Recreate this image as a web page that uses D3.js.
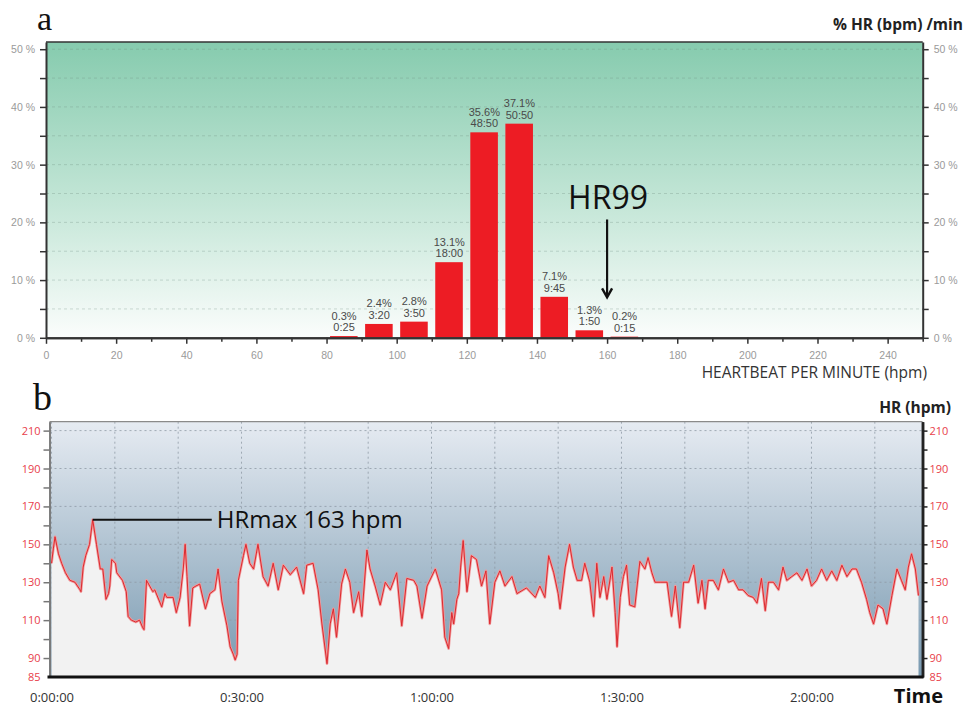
<!DOCTYPE html>
<html><head><meta charset="utf-8">
<script src="https://cdn.jsdelivr.net/npm/d3@7"></script>
<style>body{margin:0;background:#fff;} svg{display:block;}</style>
</head><body>
<svg id="chart" width="968" height="709"></svg>
<script>
// ---------- DATA ----------
const binStarts = [80, 90, 100, 110, 120, 130, 140, 150, 160];
const binPercents = [0.3, 2.4, 2.8, 13.1, 35.6, 37.1, 7.1, 1.3, 0.2];
const binDurations = ["0:25", "3:20", "3:50", "18:00", "48:50", "50:50", "9:45", "1:50", "0:15"];
const binWidth = 10;
const pctTicks = [0, 10, 20, 30, 40, 50];
const pctMinorTicks = [5, 15, 25, 35, 45];
const hpmTicks = [0, 20, 40, 60, 80, 100, 120, 140, 160, 180, 200, 220, 240];
const hpmMinorTicks = [10, 30, 50, 70, 90, 110, 130, 150, 170, 190, 210, 230, 250];

const hrMinutes = [0,0.3,0.55,1.1,1.6,2.2,2.9,3.7,4.5,4.65,5.0,5.4,6.0,6.5,7.1,7.7,8.1,8.6,9.0,9.2,9.5,10.1,10.3,11.2,11.8,12.1,12.6,13.3,13.9,14.4,14.6,15.0,15.5,16.0,16.3,17.4,17.9,18.2,19.2,19.7,20.3,20.8,21.1,21.4,21.8,22.3,22.8,23.4,24.3,25.0,25.8,26.3,26.9,27.7,28.2,28.7,29.0,29.3,29.5,30.3,30.7,31.3,31.9,32.6,33.4,34.2,35.0,35.8,36.6,37.7,38.7,39.8,40.3,41.3,42.1,42.7,43.5,44.0,44.5,45.0,45.8,46.4,47.1,47.7,48.5,49.0,49.8,50.3,51.1,51.9,52.7,53.5,54.5,55.3,56.1,57.2,57.7,58.5,59.3,60.6,61.6,62.1,62.7,63.2,63.5,64.0,64.3,64.6,65.0,65.6,66.3,67.1,67.9,68.6,69.2,70.0,70.8,71.6,72.7,73.5,75.0,76.4,77.1,77.9,78.5,79.3,80.0,80.3,81.1,81.8,82.4,83.0,83.7,84.2,85.0,85.6,86.1,86.6,87.2,87.7,88.5,89.0,89.3,89.8,90.3,90.8,91.3,92.1,92.9,93.7,94.2,94.8,95.3,96.1,97.2,97.9,98.5,99.2,99.8,100.6,101.4,102.1,102.7,103.2,103.7,104.5,105.3,106.1,106.9,107.7,108.5,109.2,110.0,110.8,111.4,112.1,112.7,113.2,114.0,114.8,115.5,116.1,116.9,117.7,118.5,119.3,120.0,120.8,121.6,122.4,123.2,124.0,124.8,125.6,126.4,127.1,127.9,128.7,129.2,129.8,130.5,131.3,131.9,132.7,133.5,134.2,134.8,135.3,135.8,136.4,136.9];
const hrValues = [140,148,154,145,140,135,131,130,126,125,138,144,150,163,150,137,137,121,124,128,142,140,135,131,125,112,110,109,110,106,105,131,128,125,126,117,124,122,122,114,122,137,150,133,107,127,128,129,116,124,126,137,120,107,96,92,89,92,131,144,150,140,137,150,133,128,140,126,139,134,138,124,139,140,126,108,87,108,116,101,129,137,130,114,125,112,147,137,128,118,130,126,135,107,132,131,128,111,128,137,126,101,95,114,108,121,124,138,152,125,144,142,128,136,108,130,136,128,133,124,127,122,128,122,144,135,124,116,138,150,138,131,131,140,130,112,140,122,133,121,138,114,96,122,133,139,118,117,141,137,143,135,130,130,130,112,128,106,130,130,139,119,131,116,131,131,126,137,130,131,126,126,123,122,119,132,115,130,130,126,138,131,133,135,131,137,128,131,137,131,136,131,139,133,137,137,130,121,114,108,118,116,108,123,137,131,126,138,145,137,123];
const timeTicks = [0, 30, 60, 90, 120];
const timeTickLabels = ["0:00:00", "0:30:00", "1:00:00", "1:30:00", "2:00:00"];
const timeGridMinutes = [0, 10, 20, 30, 40, 50, 60, 70, 80, 90, 100, 110, 120, 130];
const hrTicks = [90, 110, 130, 150, 170, 190, 210];
const hrMinorTicks = [100, 120, 140, 160, 180, 200];
const hrBottomLabel = "85";
const hrMax = {minute: 6.5, value: 163, lineEndMinute: 25.3, label: "HRmax 163 hpm"};
const hr99 = {hpm: 160, arrowTop: 20.5, arrowTip: 7.0, labelAt: 22.3, label: "HR99"};

// ---------- CHART ----------
const svg = d3.select("#chart");
const defs = svg.append("defs");
const sans = "'Liberation Sans', Arial, sans-serif";
const open = "'Open Sans', 'Noto Sans', sans-serif";

// Panel A scales
const xA = d3.scaleLinear().domain([0, 250]).range([46, 922.7]);
const yA = d3.scaleLinear().domain([0, 51.25]).range([337.8, 42]);

const gA = defs.append("linearGradient").attr("id", "gA").attr("x1", 0).attr("y1", 0).attr("x2", 0).attr("y2", 1);
gA.append("stop").attr("offset", "0%").attr("stop-color", "#86cbae");
gA.append("stop").attr("offset", "55%").attr("stop-color", "#c4e6d7");
gA.append("stop").attr("offset", "100%").attr("stop-color", "#fbfdfc");

svg.append("rect").attr("x", xA(0)).attr("y", yA(51.25)).attr("width", xA(250) - xA(0)).attr("height", yA(0) - yA(51.25)).attr("fill", "url(#gA)");

// gridlines A
svg.append("g").selectAll("line").data(pctTicks.concat(pctMinorTicks).filter(d => d > 0)).join("line")
  .attr("x1", xA(0)).attr("x2", xA(250)).attr("y1", d => yA(d)).attr("y2", d => yA(d))
  .attr("stroke", "rgba(110,140,125,0.3)").attr("stroke-dasharray", "3,3").attr("stroke-width", 1);

// bars
const bars = svg.append("g");
bars.selectAll("rect").data(binStarts).join("rect")
  .attr("x", d => xA(d) + 3.5)
  .attr("width", d => xA(d + binWidth) - xA(d) - 7.5)
  .attr("y", (d, i) => yA(binPercents[i]))
  .attr("height", (d, i) => yA(0) - yA(binPercents[i]))
  .attr("fill", "#ed1c24");
const lbl = svg.append("g").attr("font-family", sans).attr("font-size", 11).attr("fill", "#4a4a4a").attr("text-anchor", "middle");
lbl.selectAll("text.p").data(binStarts).join("text").attr("class", "p")
  .attr("x", d => xA(d + binWidth / 2)).attr("y", (d, i) => yA(binPercents[i]) - 16.5).text((d, i) => binPercents[i] + "%");
lbl.selectAll("text.d").data(binStarts).join("text").attr("class", "d")
  .attr("x", d => xA(d + binWidth / 2)).attr("y", (d, i) => yA(binPercents[i]) - 5).text((d, i) => binDurations[i]);

// axes A
function styleAxis(g, color, width, textColor, size, family) {
  g.select(".domain").attr("stroke", color).attr("stroke-width", width);
  g.selectAll(".tick line").attr("stroke", color).attr("stroke-width", 1.5);
  g.selectAll(".tick text").attr("fill", textColor).attr("font-size", size).attr("font-family", family);
}
const pctFmt = d => (d % 10 === 0 ? d + " %" : "");
const allPct = pctTicks.concat(pctMinorTicks).sort((a, b) => a - b);
svg.append("g").attr("transform", `translate(${xA(0)},0)`)
  .call(d3.axisLeft(yA).tickValues(allPct).tickFormat(pctFmt).tickSize(6).tickPadding(5).tickSizeOuter(0))
  .call(g => styleAxis(g, "#333", 2, "#9a9a9a", 10.5, sans));
svg.append("g").attr("transform", `translate(${xA(250)},0)`)
  .call(d3.axisRight(yA).tickValues(allPct).tickFormat(pctFmt).tickSize(6).tickPadding(5).tickSizeOuter(0))
  .call(g => styleAxis(g, "#333", 2, "#9a9a9a", 10.5, sans));
svg.append("g").attr("transform", `translate(0,${yA(0)})`)
  .call(d3.axisBottom(xA).tickValues(hpmMinorTicks).tickFormat("").tickSize(4).tickSizeOuter(0))
  .call(g => styleAxis(g, "#333", 2, "#9a9a9a", 10.5, sans));
svg.append("g").attr("transform", `translate(0,${yA(0)})`)
  .call(d3.axisBottom(xA).tickValues(hpmTicks).tickSize(6).tickPadding(8).tickSizeOuter(0))
  .call(g => styleAxis(g, "#333", 2, "#9a9a9a", 10.5, sans));
svg.append("line").attr("x1", xA(0)).attr("x2", xA(250)).attr("y1", yA(51.25)).attr("y2", yA(51.25)).attr("stroke", "#333").attr("stroke-width", 1.5);

// titles A
svg.append("text").attr("x", 37).attr("y", 30).attr("font-family", "'Liberation Serif', 'Times New Roman', serif").attr("font-size", 34).attr("fill", "#111").text("a");
svg.append("text").attr("x", 963).attr("y", 30).attr("text-anchor", "end").attr("font-family", open).attr("font-weight", "bold").attr("font-size", 15.5).attr("fill", "#222").text("% HR (bpm) /min");
svg.append("text").attr("x", 927).attr("y", 378).attr("text-anchor", "end").attr("font-family", open).attr("font-size", 15.5).attr("fill", "#333").text("HEARTBEAT PER MINUTE (hpm)");

// HR99 annotation
svg.append("text").attr("x", xA(hr99.hpm) + 1).attr("y", yA(hr99.labelAt)).attr("text-anchor", "middle").attr("font-family", open).attr("font-size", 32).attr("fill", "#111").text(hr99.label);
svg.append("line").attr("x1", xA(hr99.hpm)).attr("x2", xA(hr99.hpm)).attr("y1", yA(hr99.arrowTop)).attr("y2", yA(hr99.arrowTip) - 2).attr("stroke", "#111").attr("stroke-width", 2.2);
svg.append("path").attr("d", d3.line()([[xA(hr99.hpm) - 5, yA(hr99.arrowTip) - 9], [xA(hr99.hpm), yA(hr99.arrowTip)], [xA(hr99.hpm) + 5, yA(hr99.arrowTip) - 9]]))
  .attr("fill", "none").attr("stroke", "#111").attr("stroke-width", 2.4).attr("stroke-linejoin", "miter");

// ---------- Panel B ----------
const xB = d3.scaleLinear().domain([-0.32, 137.53]).range([49.5, 922.5]);
const yB = d3.scaleLinear().domain([80, 214.7]).range([677, 421.7]);

const gB = defs.append("linearGradient").attr("id", "gB").attr("x1", 0).attr("y1", 0).attr("x2", 0).attr("y2", 1);
gB.append("stop").attr("offset", "0%").attr("stop-color", "#e6ebf2");
gB.append("stop").attr("offset", "100%").attr("stop-color", "#7899b0");
svg.append("rect").attr("x", xB.range()[0]).attr("y", yB.range()[1]).attr("width", xB.range()[1] - xB.range()[0]).attr("height", yB.range()[0] - yB.range()[1]).attr("fill", "url(#gB)");

// gridlines B
svg.append("g").selectAll("line").data(hrTicks).join("line")
  .attr("x1", xB.range()[0]).attr("x2", xB.range()[1]).attr("y1", d => yB(d)).attr("y2", d => yB(d))
  .attr("stroke", "#8f9aa5").attr("stroke-opacity", 0.8).attr("stroke-dasharray", "2,3");
svg.append("g").selectAll("line").data(timeGridMinutes).join("line")
  .attr("x1", d => xB(d)).attr("x2", d => xB(d)).attr("y1", yB.range()[1]).attr("y2", yB.range()[0])
  .attr("stroke", "#8f9aa5").attr("stroke-opacity", 0.8).attr("stroke-dasharray", "2,3");

const hrData = hrMinutes.map((m, i) => [m, hrValues[i]]);
svg.append("path").datum(hrData)
  .attr("d", d3.area().x(d => xB(d[0])).y0(yB(80)).y1(d => yB(d[1])))
  .attr("fill", "#f2f2f2");
svg.append("path").datum(hrData)
  .attr("d", d3.line().x(d => xB(d[0])).y(d => yB(d[1])))
  .attr("fill", "none").attr("stroke", "#f19a9c").attr("stroke-width", 2.6).attr("stroke-linejoin", "round");
svg.append("path").datum(hrData)
  .attr("d", d3.line().x(d => xB(d[0])).y(d => yB(d[1])))
  .attr("fill", "none").attr("stroke", "#dc2a2f").attr("stroke-width", 1).attr("stroke-linejoin", "round");

// axes B
svg.append("line").attr("x1", xB.range()[0]).attr("x2", xB.range()[1]).attr("y1", yB.range()[1]).attr("y2", yB.range()[1]).attr("stroke", "#8a8a8a").attr("stroke-width", 1.2);
svg.append("g").attr("transform", `translate(${xB.range()[0]},0)`)
  .call(d3.axisLeft(yB).tickValues(hrMinorTicks).tickFormat("").tickSize(6).tickSizeOuter(0))
  .call(g => styleAxis(g, "#777", 1.5, "#e8404a", 11, open));
svg.append("g").attr("transform", `translate(${xB.range()[0]},0)`)
  .call(d3.axisLeft(yB).tickValues(hrTicks).tickSize(6).tickPadding(3).tickSizeOuter(0))
  .call(g => styleAxis(g, "#777", 1.5, "#e8404a", 11, open));
svg.append("g").attr("transform", `translate(${xB.range()[1]},0)`)
  .call(d3.axisRight(yB).tickValues(hrMinorTicks).tickFormat("").tickSize(5).tickSizeOuter(0))
  .call(g => styleAxis(g, "#222", 2.5, "#e8404a", 11, open));
svg.append("g").attr("transform", `translate(${xB.range()[1]},0)`)
  .call(d3.axisRight(yB).tickValues(hrTicks).tickSize(5).tickPadding(2).tickSizeOuter(0))
  .call(g => styleAxis(g, "#222", 2.5, "#e8404a", 11, open));
// bottom "85" labels
svg.append("text").attr("x", xB.range()[0] - 9).attr("y", yB(80)).attr("dy", "0.32em").attr("text-anchor", "end").attr("font-family", open).attr("font-size", 11).attr("fill", "#e8404a").text(hrBottomLabel);
svg.append("text").attr("x", xB.range()[1] + 7).attr("y", yB(80)).attr("dy", "0.32em").attr("font-family", open).attr("font-size", 11).attr("fill", "#e8404a").text(hrBottomLabel);

svg.append("g").attr("transform", `translate(0,${yB(80)})`)
  .call(d3.axisBottom(xB).tickValues(timeTicks).tickFormat((d, i) => timeTickLabels[i]).tickSize(0).tickPadding(16))
  .call(g => { g.select(".domain").remove(); g.selectAll(".tick text").attr("fill", "#333").attr("font-size", 13).attr("font-family", open); });
svg.append("line").attr("x1", xB.range()[0] - 2).attr("x2", xB.range()[1] + 1).attr("y1", yB(80)).attr("y2", yB(80)).attr("stroke", "#111").attr("stroke-width", 3);

// titles B
svg.append("text").attr("x", 33).attr("y", 410).attr("font-family", "'Liberation Serif', 'Times New Roman', serif").attr("font-size", 38).attr("fill", "#111").text("b");
svg.append("text").attr("x", 951).attr("y", 413).attr("text-anchor", "end").attr("font-family", open).attr("font-weight", "bold").attr("font-size", 15.5).attr("fill", "#222").text("HR (hpm)");
svg.append("text").attr("x", 943).attr("y", 703).attr("text-anchor", "end").attr("font-family", open).attr("font-weight", "bold").attr("font-size", 20).attr("fill", "#111").text("Time");

// HRmax annotation
svg.append("line").attr("x1", xB(hrMax.minute)).attr("x2", xB(hrMax.lineEndMinute)).attr("y1", yB(hrMax.value)).attr("y2", yB(hrMax.value)).attr("stroke", "#111").attr("stroke-width", 2);
svg.append("text").attr("x", xB(hrMax.lineEndMinute) + 5).attr("y", yB(hrMax.value) + 8.5).attr("font-family", open).attr("font-size", 24).attr("fill", "#111").text(hrMax.label);
</script>
</body></html>
